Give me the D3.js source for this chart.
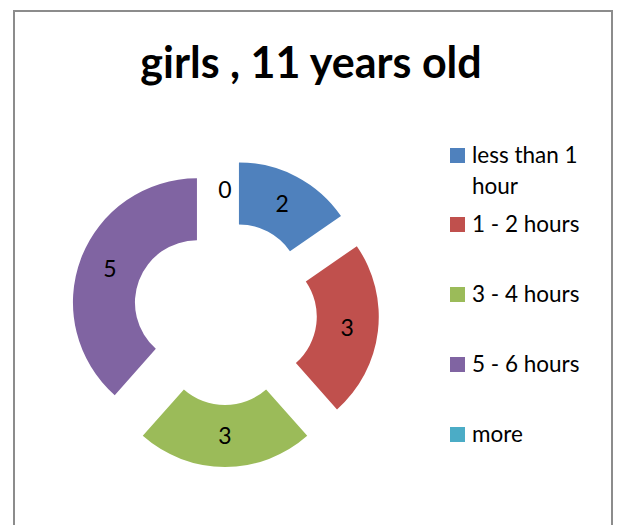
<!DOCTYPE html>
<html>
<head>
<meta charset="utf-8">
<script src="https://cdn.jsdelivr.net/npm/d3@7"></script>
<style>
  body { margin: 0; background: #fff; }
  text { font-family: Lato, "Open Sans", sans-serif; }
</style>
</head>
<body>
<div id="chart-area"></div>
<script>
// data
const categories = ["less than 1 hour", "1 - 2 hours", "3 - 4 hours", "5 - 6 hours", "more"];
const values = [2, 3, 3, 5, 0];
const colors = ["#4F81BD", "#C0504D", "#9BBB59", "#8064A2", "#4BACC6"];

const width = 618, height = 525;
const cx = 225, cy = 313;
const outerR = 124, innerR = 62, explode = 30;

const svg = d3.select("#chart-area")
  .append("svg")
    .attr("width", width)
    .attr("height", height);

// chart frame
svg.append("rect")
    .attr("x", 14)
    .attr("y", 11)
    .attr("width", 598)
    .attr("height", 530)
    .attr("fill", "white")
    .attr("stroke", "#8c8c8c")
    .attr("stroke-width", 2);

svg.append("text")
    .attr("x", 311)
    .attr("y", 78)
    .attr("text-anchor", "middle")
    .style("font-size", "43px")
    .style("font-weight", "bold")
    .text("girls , 11 years old");

const data = categories.map((c, i) => ({ name: c, value: values[i], color: colors[i] }));

const pie = d3.pie()
  .sort(null)
  .value(d => d.value);

const arc = d3.arc()
  .innerRadius(innerR)
  .outerRadius(outerR);

const arcs = pie(data);

const chart = svg.append("g")
    .attr("transform", `translate(${cx},${cy})`);

function shift(d) {
  const mid = (d.startAngle + d.endAngle) / 2;
  return [Math.sin(mid) * explode, -Math.cos(mid) * explode];
}

const slice = chart.selectAll(".slice")
  .data(arcs)
  .enter()
  .append("g")
    .attr("class", "slice")
    .attr("transform", d => `translate(${shift(d)})`);

slice.filter(d => d.value > 0)
  .append("path")
    .attr("d", arc)
    .attr("fill", d => d.data.color);

slice.append("text")
    .attr("transform", d => `translate(${arc.centroid(d)})`)
    .attr("text-anchor", "middle")
    .attr("dy", "0.35em")
    .style("font-size", "23px")
    .attr("fill", "#000")
    .text(d => d.value);

// legend
const legendY = [155, 224, 294, 364, 434];
const legend = svg.selectAll(".legend")
  .data(data)
  .enter()
  .append("g")
    .attr("class", "legend")
    .attr("transform", (d, i) => `translate(450,${legendY[i]})`);

legend.append("rect")
    .attr("x", 0)
    .attr("y", -7)
    .attr("width", 15)
    .attr("height", 15)
    .attr("fill", d => d.color);

legend.append("text")
    .attr("x", 22)
    .attr("y", 0)
    .attr("dy", "0.35em")
    .style("font-size", "22.5px")
    .attr("fill", "#000")
    .each(function(d) {
      const t = d3.select(this);
      if (d.name === "less than 1 hour") {
        t.append("tspan").attr("x", 22).text("less than 1");
        t.append("tspan").attr("x", 22).attr("dy", 31).text("hour");
      } else {
        t.text(d.name);
      }
    });
</script>
</body>
</html>
